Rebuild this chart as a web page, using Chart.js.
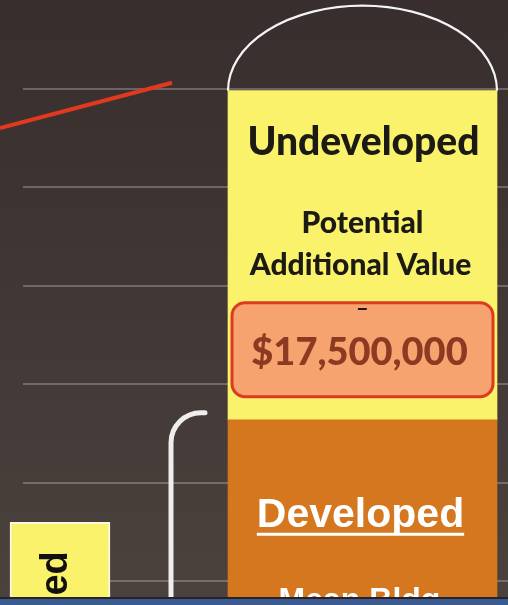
<!DOCTYPE html>
<html>
<head>
<meta charset="utf-8">
<script src="https://cdn.jsdelivr.net/npm/chart.js@4.4.0/dist/chart.umd.min.js"></script>
<style>
    html, body { margin: 0; padding: 0; background: #3f3634; }
    canvas { display: block; }
</style>
</head>
<body>
<canvas id="valueChart" width="508" height="605"></canvas>
<script>
// Values in $ millions, positions along the slide's horizontal axis
const trendX = [-0.23, 1.49];
const trendValues = [38.0, 40.3];

const leftColumnX = [0.37];
const leftColumnValues = [18.0];
const leftColumnLabel = 'Undeveloped';

const parcelX = [3.395];
const developedValues = [23.2];
const undevelopedValues = [16.7];

const undevelopedTitle = 'Undeveloped';
const potentialLines = ['Potential', 'Additional Value', '–'];
const potentialValue = '$17,500,000';
const developedTitle = 'Developed';
const developedSubtitle = 'Mean Bldg';

const toPoints = (xs, ys) => xs.map((x, i) => ({ x: x, y: ys[i] }));

// Draws background, arch, bracket and the labels inside the columns
const slideDecor = {
    id: 'slideDecor',
    beforeDraw(chart) {
        const { ctx, width, height } = chart;
        const g = ctx.createLinearGradient(0, 0, 0, height);
        g.addColorStop(0, '#372e2d');
        g.addColorStop(1, '#4b413d');
        ctx.save();
        ctx.fillStyle = g;
        ctx.fillRect(0, 0, width, height);
        ctx.restore();
    },
    afterDatasetsDraw(chart) {
        const { ctx, width, height } = chart;
        const left = chart.getDatasetMeta(1).data[0];
        const dev = chart.getDatasetMeta(2).data[0];
        const undev = chart.getDatasetMeta(3).data[0];
        const cx = undev.x;
        const top = undev.y;

        ctx.save();

        // arch over the column
        ctx.strokeStyle = '#f4f4f4';
        ctx.lineWidth = 2.2;
        ctx.beginPath();
        ctx.ellipse(cx, top, undev.width / 2, 85, 0, Math.PI, 2 * Math.PI);
        ctx.stroke();

        // bracket left of the developed part
        const bx = dev.x - dev.width / 2 - 57;
        ctx.lineWidth = 5;
        ctx.lineCap = 'round';
        ctx.strokeStyle = '#eeeeee';
        ctx.beginPath();
        ctx.moveTo(bx, height + 5);
        ctx.lineTo(bx, dev.y + 25);
        ctx.arcTo(bx, dev.y - 7, bx + 34, dev.y - 7, 30);
        ctx.lineTo(bx + 34, dev.y - 7);
        ctx.stroke();

        // undeveloped text
        ctx.textAlign = 'center';
        ctx.textBaseline = 'alphabetic';
        ctx.fillStyle = '#1c1a14';
        ctx.font = '900 39px Lato';
        ctx.fillText(undevelopedTitle, cx + 1, top + 64);
        ctx.font = '900 30px Lato';
        ctx.fillText(potentialLines[0], cx, top + 142);
        ctx.fillText(potentialLines[1], cx - 2, top + 184);

        // value box
        const boxL = undev.x - undev.width / 2 + 4;
        const boxW = undev.width - 8;
        ctx.beginPath();
        ctx.roundRect(boxL, top + 212, boxW, 94, 13);
        ctx.fillStyle = '#f6a36f';
        ctx.fill();
        ctx.lineWidth = 3;
        ctx.strokeStyle = '#dc3a22';
        ctx.stroke();
        ctx.fillStyle = '#1c1a14';
        ctx.font = 'bold 22px Lato';
        ctx.fillText(potentialLines[2], cx, top + 225);
        ctx.fillStyle = '#8c3b22';
        ctx.font = '900 38px Lato';
        ctx.fillText(potentialValue, cx - 3, top + 274);

        // developed text
        ctx.fillStyle = '#ffffff';
        ctx.font = 'bold 41px "Liberation Sans"';
        ctx.fillText(developedTitle, cx - 2, dev.y + 107);
        const w = ctx.measureText(developedTitle).width;
        ctx.fillRect(cx - 2 - w / 2, dev.y + 113, w, 3);
        ctx.font = 'bold 32px "Liberation Sans"';
        ctx.fillText(developedSubtitle, cx - 3, dev.y + 190);

        // rotated label in the left column
        ctx.save();
        ctx.beginPath();
        ctx.rect(left.x - left.width / 2, left.y, left.width, height - left.y);
        ctx.clip();
        ctx.translate(left.x + 7, left.y + 29);
        ctx.rotate(-Math.PI / 2);
        ctx.textAlign = 'right';
        ctx.fillStyle = '#111111';
        ctx.font = 'bold 38px "Liberation Sans"';
        ctx.fillText(leftColumnLabel, 0, 0);
        ctx.restore();

        // bottom edge of the photo
        ctx.fillStyle = '#26232a';
        ctx.fillRect(0, height - 8, width, 2);
        ctx.fillStyle = '#3b5a90';
        ctx.fillRect(0, height - 6, width, 6);

        ctx.restore();
    }
};

new Chart(document.getElementById('valueChart'), {
    type: 'bar',
    data: {
        datasets: [{
            type: 'line',
            label: 'Trend',
            data: toPoints(trendX, trendValues),
            borderColor: '#e2391e',
            borderWidth: 4,
            pointRadius: 0,
            clip: false
        }, {
            label: leftColumnLabel,
            data: toPoints(leftColumnX, leftColumnValues),
            backgroundColor: '#faf26a',
            borderColor: '#fbf8e2',
            borderWidth: { top: 2, left: 2, right: 2, bottom: 0 },
            borderSkipped: false,
            barThickness: 100,
            clip: false
        }, {
            label: 'Developed',
            data: toPoints(parcelX, developedValues),
            backgroundColor: '#d4771e',
            barThickness: 269,
            clip: false
        }, {
            label: 'Undeveloped',
            data: toPoints(parcelX, undevelopedValues),
            backgroundColor: '#faf26a',
            barThickness: 269,
            clip: false
        }]
    },
    options: {
        responsive: false,
        devicePixelRatio: 1,
        animation: false,
        layout: { padding: 0 },
        plugins: {
            legend: { display: false },
            tooltip: { enabled: false }
        },
        scales: {
            x: {
                type: 'linear',
                display: false,
                offset: false,
                stacked: true,
                min: 0,
                max: 4.85
            },
            y: {
                type: 'linear',
                stacked: true,
                min: 13.8,
                max: 44.5,
                afterFit: (scale) => { scale.width = 23; },
                border: { display: false },
                ticks: { display: false, stepSize: 5, includeBounds: false },
                grid: {
                    drawTicks: false,
                    color: 'rgba(205, 195, 190, 0.35)',
                    lineWidth: 2
                }
            }
        }
    },
    plugins: [slideDecor]
});
</script>
</body>
</html>
